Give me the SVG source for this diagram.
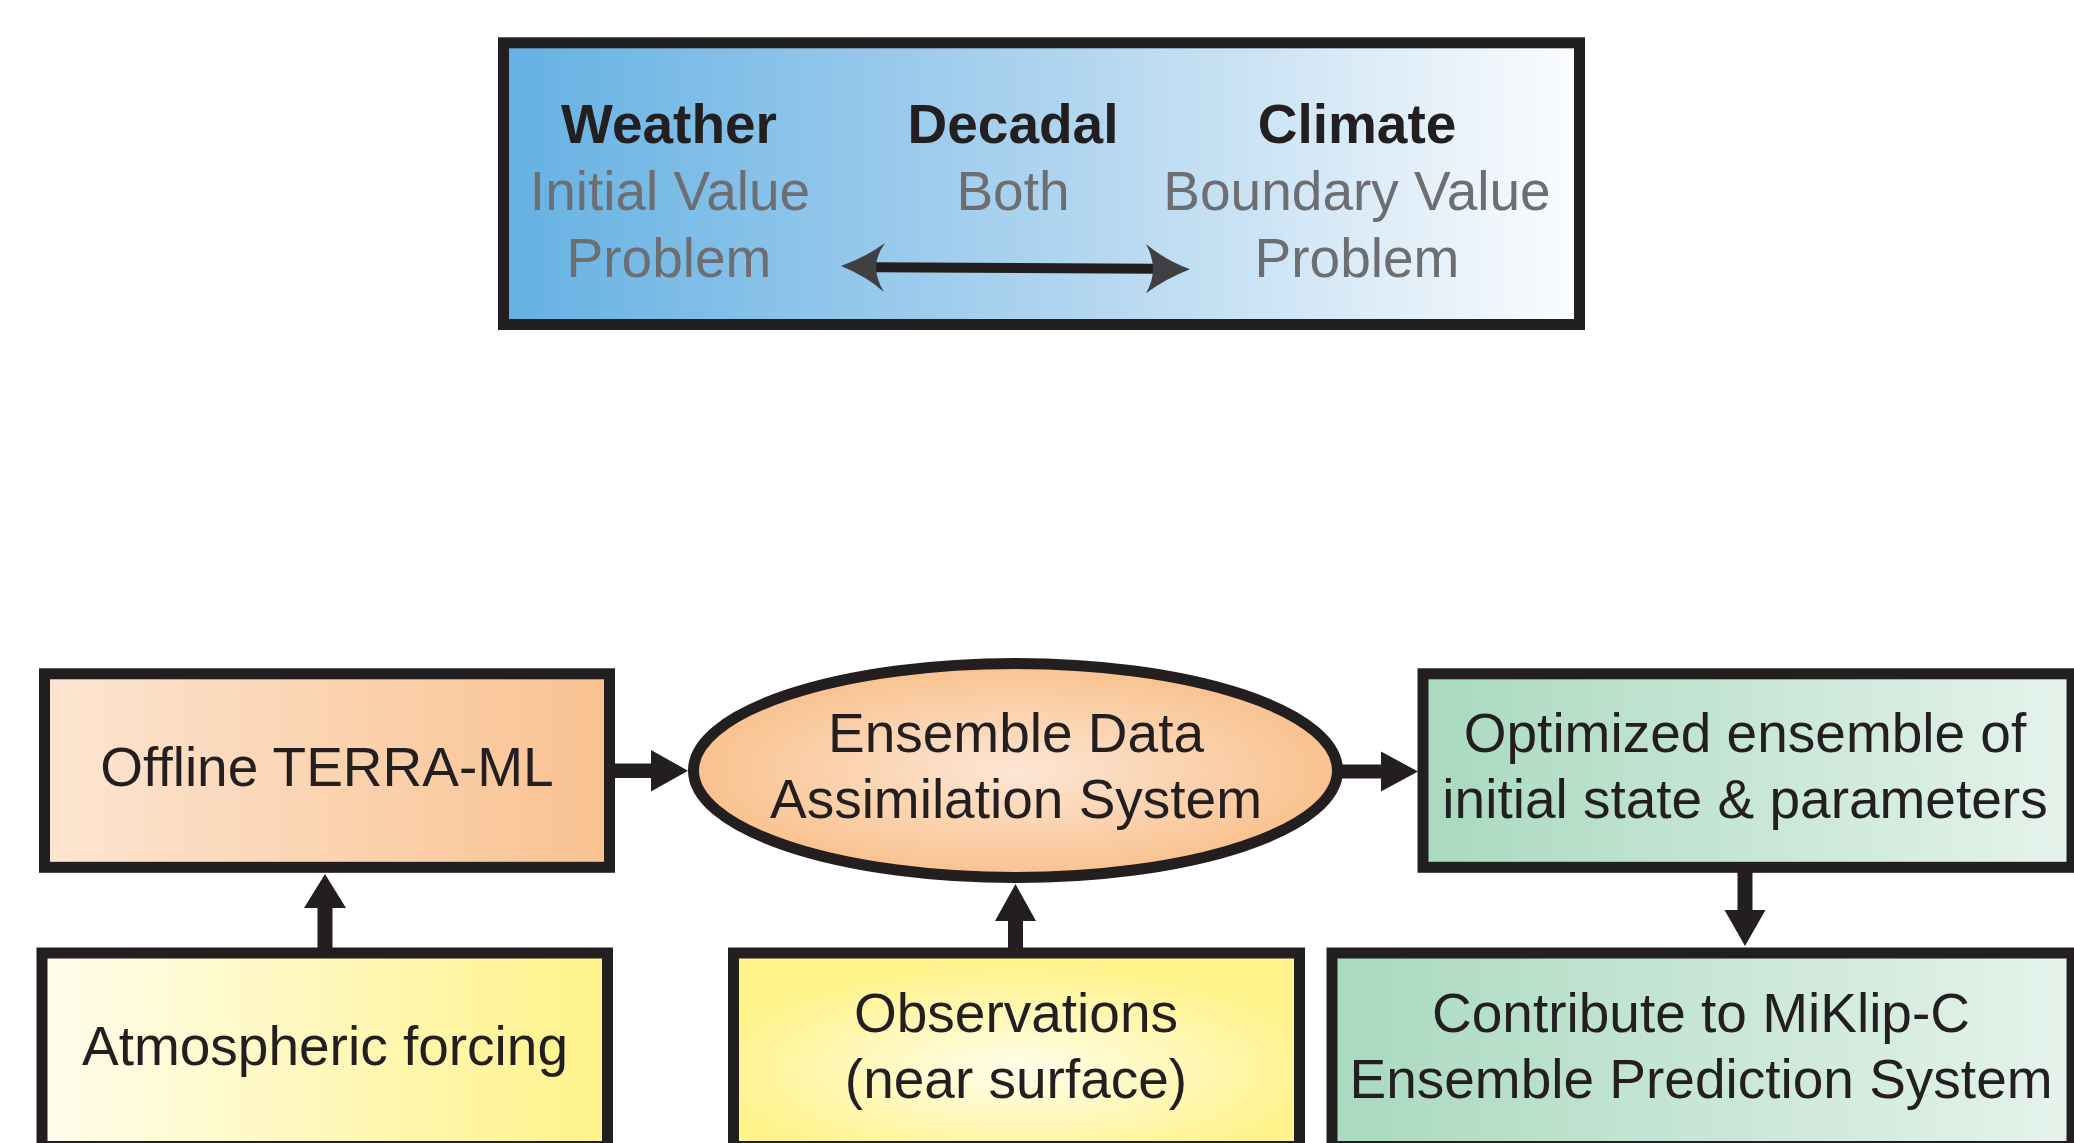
<svg xmlns="http://www.w3.org/2000/svg" width="2074" height="1143" viewBox="0 0 2074 1143">
  <defs>
    <linearGradient id="gBlue" x1="0" y1="0" x2="1" y2="0">
      <stop offset="0" stop-color="#64b1e3"/>
      <stop offset="0.5" stop-color="#add3ef"/>
      <stop offset="1" stop-color="#fbfcfe"/>
    </linearGradient>
    <linearGradient id="gPeach" x1="0" y1="0" x2="1" y2="0">
      <stop offset="0" stop-color="#fde5d2"/>
      <stop offset="1" stop-color="#f9c290"/>
    </linearGradient>
    <radialGradient id="gPeachR" cx="0.5" cy="0.5" r="0.5">
      <stop offset="0" stop-color="#fde6d5"/>
      <stop offset="1" stop-color="#f9c28e"/>
    </radialGradient>
    <linearGradient id="gYellow" x1="0" y1="0" x2="1" y2="0">
      <stop offset="0" stop-color="#fffcec"/>
      <stop offset="1" stop-color="#fff38a"/>
    </linearGradient>
    <radialGradient id="gYellowR" cx="0.5" cy="0.6" r="0.55">
      <stop offset="0" stop-color="#fffdea"/>
      <stop offset="1" stop-color="#fff38a"/>
    </radialGradient>
    <linearGradient id="gGreen" x1="0" y1="0" x2="1" y2="0">
      <stop offset="0" stop-color="#a9d9bf"/>
      <stop offset="1" stop-color="#e6f3ec"/>
    </linearGradient>
  </defs>
  <style>
    .box { stroke: #231f20; stroke-width: 11; }
    .t { font-family: "Liberation Sans", Arial, sans-serif; font-size: 55px; fill: #231f20; text-anchor: middle; }
    .b { font-weight: bold; }
    .g { fill: #6d6e71; }
    .arr { fill: #231f20; }
    .head { fill: #404042; }
  </style>
  <rect width="2074" height="1143" fill="#ffffff"/>

  <!-- Legend: forecast range from weather to climate -->
  <g id="legend">
    <rect class="box" x="503.5" y="42.8" width="1076" height="281.7" fill="url(#gBlue)"/>
    <text class="t b" x="669" y="142.7">Weather</text>
    <text class="t g" x="670" y="210">Initial Value</text>
    <text class="t g" x="669" y="276.7">Problem</text>
    <text class="t b" x="1013" y="142.7">Decadal</text>
    <text class="t g" x="1013" y="210">Both</text>
    <text class="t b" x="1357" y="142.7">Climate</text>
    <text class="t g" x="1357" y="210">Boundary Value</text>
    <text class="t g" x="1357" y="276.7">Problem</text>
    <line x1="874" y1="267.3" x2="1155" y2="268.8" stroke="#231f20" stroke-width="10"/>
    <path class="head" d="M841,266 Q866,257 885,243 Q876,256 876,267 Q876,279 884,292 Q866,276 841,266 Z"/>
    <path class="head" d="M1190,269.3 Q1165,260 1146,244 Q1153,257 1153,269 Q1153,281 1146,293.3 Q1165,279 1190,269.3 Z"/>
  </g>

  <!-- Flow nodes -->
  <g id="node-terra">
    <rect class="box" x="44.5" y="673.8" width="565" height="193.5" fill="url(#gPeach)"/>
    <text class="t" x="327" y="786">Offline TERRA-ML</text>
  </g>
  <g id="node-forcing">
    <rect class="box" x="42" y="953" width="565.5" height="193.5" fill="url(#gYellow)"/>
    <text class="t" x="325" y="1065">Atmospheric forcing</text>
  </g>
  <g id="node-edas">
    <ellipse class="box" cx="1015.5" cy="770.5" rx="322" ry="107" fill="url(#gPeachR)"/>
    <text class="t" x="1016" y="751.7">Ensemble Data</text>
    <text class="t" x="1016" y="818.3">Assimilation System</text>
  </g>
  <g id="node-obs">
    <rect class="box" x="733.5" y="953" width="566" height="193.5" fill="url(#gYellowR)"/>
    <text class="t" x="1016" y="1031.7">Observations</text>
    <text class="t" x="1016" y="1098">(near surface)</text>
  </g>
  <g id="node-optimized">
    <rect class="box" x="1423" y="673.8" width="649" height="193.5" fill="url(#gGreen)"/>
    <text class="t" x="1745" y="751.7">Optimized ensemble of</text>
    <text class="t" x="1745" y="818.3">initial state &amp; parameters</text>
  </g>
  <g id="node-miklip">
    <rect class="box" x="1332" y="953" width="740" height="193.5" fill="url(#gGreen)"/>
    <text class="t" x="1701" y="1031.7">Contribute to MiKlip-C</text>
    <text class="t" x="1701" y="1098">Ensemble Prediction System</text>
  </g>

  <!-- Connectors -->
  <g id="connectors">
    <polygon class="arr" points="317.5,948 317.5,908 304,908 325,874 346,908 332.5,908 332.5,948"/>
    <polygon class="arr" points="614,763.5 651,763.5 651,750 688,770.8 651,791.5 651,778 614,778"/>
    <polygon class="arr" points="1008,948 1008,921 995,921 1015.5,884 1036,921 1023,921 1023,948"/>
    <polygon class="arr" points="1341,764.5 1381,764.5 1381,751.5 1418,771.5 1381,791.5 1381,778.5 1341,778.5"/>
    <polygon class="arr" points="1737.5,872 1752.5,872 1752.5,910 1765.5,910 1745,946 1724.5,910 1737.5,910"/>
  </g>
</svg>
